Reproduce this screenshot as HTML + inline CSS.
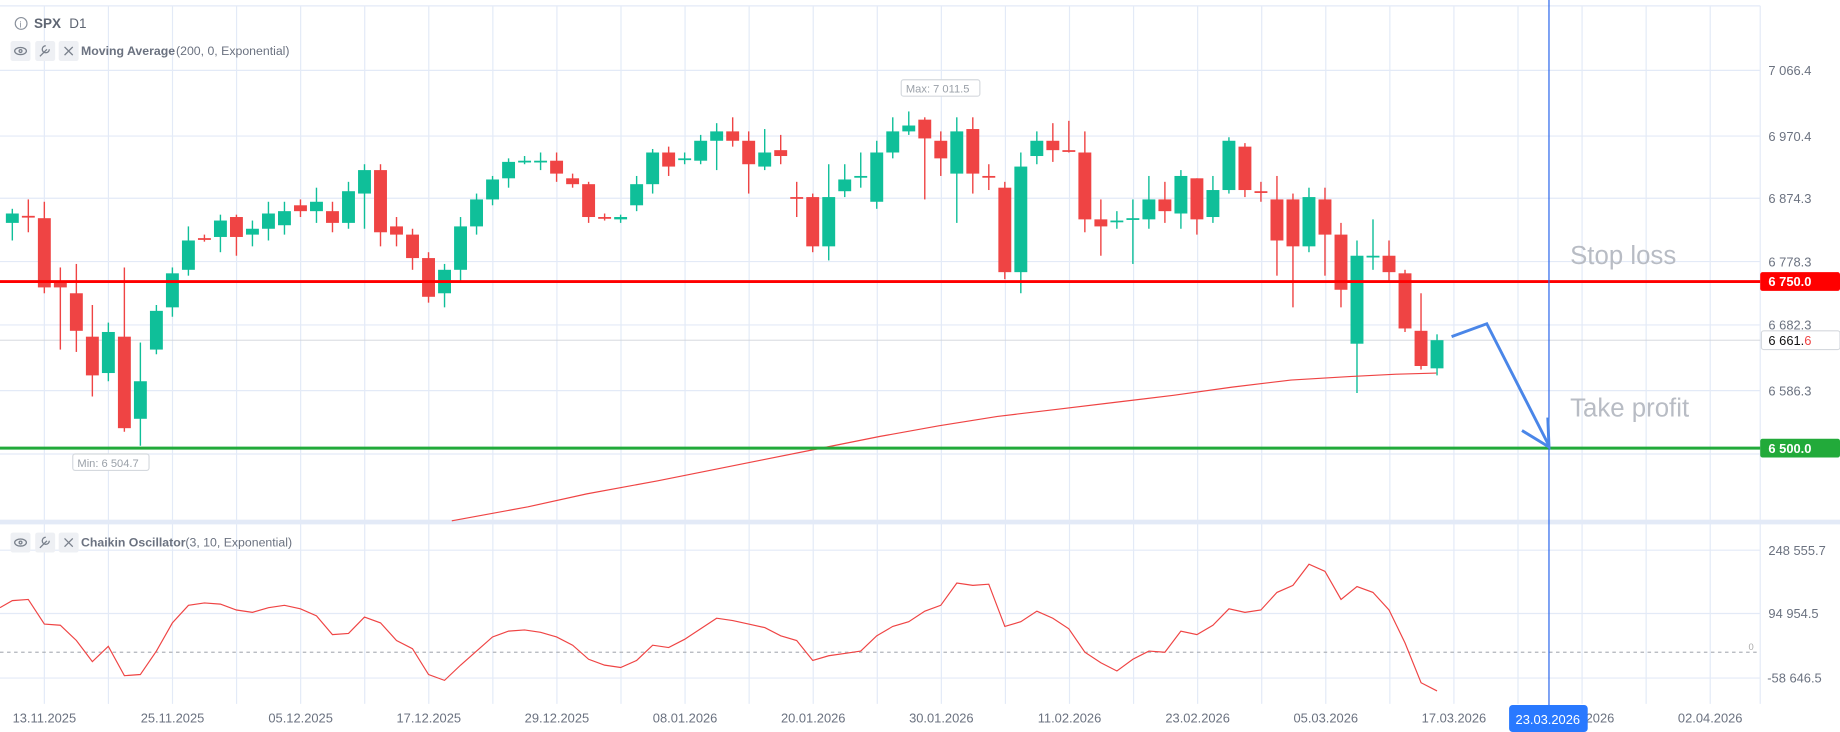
<!DOCTYPE html>
<html><head><meta charset="utf-8"><style>
html,body{margin:0;padding:0;background:#fff;overflow:hidden}
svg{display:block}
text{font-family:"Liberation Sans",sans-serif}
</style></head><body>
<svg id="s" width="1840" height="732" viewBox="0 0 1568 624" preserveAspectRatio="none" xmlns="http://www.w3.org/2000/svg">
<rect width="1568" height="624" fill="#fff"/>
<g id="grid" stroke="#e3eaf7" stroke-width="1"></g>
<line x1="1500" y1="5" x2="1500" y2="600" stroke="#e3eaf7"/>
<line x1="0" y1="5" x2="1500" y2="5" stroke="#e3eaf7"/>
<rect x="0" y="443" width="1568" height="4" fill="#e3eaf7"/>
<line x1="0" y1="290" x2="1500" y2="290" stroke="#d0d4da" stroke-width="0.8"/>
<g id="candles"></g>
<polyline fill="none" stroke="#ef4444" stroke-width="1" points="385,444 450,432 500,421 560,410 600,402 650,392 700,382 750,372 800,363 850,355 900,349 950,343 1000,337 1050,330 1100,324 1150,321 1190,319 1224,318"/>
<line x1="0" y1="240" x2="1500" y2="240" stroke="#ff0000" stroke-width="2.5"/>
<line x1="0" y1="382" x2="1500" y2="382" stroke="#22aa3a" stroke-width="2.5"/>
<line x1="0" y1="556" x2="1500" y2="556" stroke="#b0b4bb" stroke-width="1" stroke-dasharray="3,3"/>
<polyline id="ch" fill="none" stroke="#ef4444" stroke-width="1"/>
<line x1="1320" y1="0" x2="1320" y2="605" stroke="#2563eb" stroke-width="1"/>
<polyline fill="none" stroke="#4a86e8" stroke-width="2.5" points="1237,287 1267,276 1320,380"/>
<polyline fill="none" stroke="#4a86e8" stroke-width="2.5" points="1297,367 1320,381 1319,356"/>
<text x="1338" y="225" font-size="22" fill="#b8bcc4">Stop loss</text>
<text x="1338" y="355" font-size="22" fill="#b8bcc4">Take profit</text>
<g font-size="11" fill="#6b7280">
<text x="1507" y="64">7 066.4</text><text x="1507" y="120">6 970.4</text><text x="1507" y="173">6 874.3</text>
<text x="1507" y="227">6 778.3</text><text x="1507" y="281">6 682.3</text><text x="1507" y="337">6 586.3</text>
<text x="1507" y="473">248 555.7</text><text x="1507" y="527">94 954.5</text><text x="1506" y="582">-58 646.5</text>
<text x="1490" y="554" font-size="8" fill="#aaa">0</text>
</g>
<rect x="1500" y="232" width="68" height="16" rx="2" fill="#ff0000"/>
<text x="1507" y="244" font-size="11" fill="#fff" font-weight="bold">6 750.0</text>
<rect x="1500" y="374" width="68" height="16" rx="2" fill="#22aa3a"/>
<text x="1507" y="386" font-size="11" fill="#fff" font-weight="bold">6 500.0</text>
<rect x="1501" y="282" width="67" height="16" rx="2" fill="#fff" stroke="#d5d9de"/>
<text x="1507" y="294" font-size="11" fill="#111">6 661.<tspan fill="#ef4444">6</tspan></text>
<rect x="768" y="68" width="67" height="14" rx="2" fill="#fff" stroke="#d5d9de"/>
<text x="772" y="79" font-size="9.5" fill="#9aa0a8">Max: 7 011.5</text>
<rect x="62" y="387" width="65" height="14" rx="2" fill="#fff" stroke="#d5d9de"/>
<text x="66" y="398" font-size="9.5" fill="#9aa0a8">Min: 6 504.7</text>
<g id="dates" font-size="11" fill="#6b7280" text-anchor="middle"></g>
<rect x="1286" y="601" width="67" height="23" rx="3" fill="#2979ff"/>
<text x="1319" y="617" font-size="11" fill="#fff" text-anchor="middle">23.03.2026</text>
<circle cx="18" cy="20" r="5" fill="none" stroke="#8a919c" stroke-width="1"/>
<text x="16.5" y="23.5" font-size="8" fill="#8a919c">i</text>
<text x="29" y="24" font-size="11.5" font-weight="bold" fill="#5f6673">SPX</text>
<text x="59" y="24" font-size="11.5" fill="#5f6673">D1</text>
<g fill="#eef0f4"><rect x="9" y="35" width="17" height="17" rx="2"/><rect x="30" y="35" width="17" height="17" rx="2"/><rect x="50" y="35" width="17" height="17" rx="2"/>
<rect x="9" y="454" width="17" height="17" rx="2"/><rect x="30" y="454" width="17" height="17" rx="2"/><rect x="50" y="454" width="17" height="17" rx="2"/></g>
<g stroke="#7a818c" fill="none" stroke-width="1.1">
<ellipse cx="17.5" cy="43.5" rx="5" ry="3"/><circle cx="17.5" cy="43.5" r="1.2"/>
<path d="M34 48 L40 42 M39 39 a3 3 0 1 0 3 3"/>
<path d="M55 40 L62 47 M62 40 L55 47"/>
<ellipse cx="17.5" cy="462.5" rx="5" ry="3"/><circle cx="17.5" cy="462.5" r="1.2"/>
<path d="M34 467 L40 461 M39 458 a3 3 0 1 0 3 3"/>
<path d="M55 459 L62 466 M62 459 L55 466"/>
</g>
<text x="69" y="47" font-size="10.5" font-weight="bold" fill="#6b7280">Moving Average</text>
<text x="150" y="47" font-size="10.5" fill="#6b7280">(200, 0, Exponential)</text>
<text x="69" y="466" font-size="10.5" font-weight="bold" fill="#6b7280">Chaikin Oscillator</text>
<text x="158" y="466" font-size="10.5" fill="#6b7280">(3, 10, Exponential)</text>
</svg>
<script>
const NS="http://www.w3.org/2000/svg";
function el(t,a,p){const e=document.createElementNS(NS,t);for(const k in a)e.setAttribute(k,a[k]);p.appendChild(e);return e;}
const g=document.getElementById('grid');
[60,116,169,223,277,333,387,469,523,578].forEach(y=>el('line',{x1:0,y1:y,x2:1500,y2:y},g));
for(let x=37.8;x<1500;x+=54.6)el('line',{x1:x,y1:5,x2:x,y2:600},g);
const dates=["13.11.2025","25.11.2025","05.12.2025","17.12.2025","29.12.2025","08.01.2026","20.01.2026","30.01.2026","11.02.2026","23.02.2026","05.03.2026","17.03.2026","26.03.2026","02.04.2026"];
const dg=document.getElementById('dates');
dates.forEach((d,i)=>{const t=el('text',{x:37.8+109.2*i,y:616},dg);t.textContent=d;});
const C=[[182,190,178,205,'g'],[184,184,170,198,'r'],[186,245,172,250,'r'],[240,245,228,298,'r'],[250,282,225,300,'r'],[287,320,260,338,'r'],[283,318,275,325,'g'],[287,365,228,368,'r'],[325,357,292,380,'g'],[265,298,260,302,'g'],[233,262,228,270,'g'],[205,230,193,235,'g'],[203,204,200,206,'r'],[188,202,183,215,'g'],[185,202,183,218,'r'],[195,200,188,210,'g'],[182,195,172,205,'g'],[180,192,172,200,'g'],[175,180,170,185,'r'],[172,180,160,190,'g'],[180,190,172,198,'r'],[163,190,155,195,'g'],[145,165,140,195,'g'],[145,198,140,210,'r'],[193,200,185,210,'r'],[200,220,195,230,'r'],[220,253,215,258,'r'],[230,250,225,262,'g'],[193,230,185,240,'g'],[170,193,165,200,'g'],[153,170,150,175,'g'],[138,152,135,160,'g'],[137,138,133,140,'g'],[137,138,130,145,'g'],[137,148,130,155,'r'],[152,157,148,160,'r'],[157,185,155,190,'r'],[185,186,182,188,'r'],[185,187,183,190,'g'],[157,175,150,180,'g'],[130,157,127,165,'g'],[130,142,125,150,'r'],[135,136,130,140,'g'],[120,137,115,140,'g'],[112,120,105,145,'g'],[112,120,100,125,'r'],[120,140,112,165,'r'],[130,142,110,145,'g'],[128,133,115,140,'r'],
[168,169,155,185,'r'],[168,210,165,215,'r'],[168,210,140,222,'g'],[153,163,140,168,'g'],[150,151,130,160,'g'],[130,172,120,178,'g'],[112,130,100,135,'g'],[107,112,95,115,'g'],[102,118,100,170,'r'],[120,135,112,150,'r'],[112,148,100,190,'g'],[110,148,100,165,'r'],[150,151,140,162,'r'],[160,232,155,238,'r'],[142,232,130,250,'g'],[120,133,112,140,'g'],[120,128,105,138,'r'],[128,129,103,130,'r'],[130,187,112,198,'r'],[187,193,170,218,'r'],[188,189,180,195,'g'],[186,187,170,225,'g'],[170,187,150,195,'g'],[170,180,155,190,'r'],[150,182,145,195,'g'],[152,187,152,200,'r'],[162,185,150,190,'g'],[120,162,117,165,'g'],[125,162,122,168,'r'],[163,164,155,172,'r'],[170,205,150,235,'r'],[170,210,165,262,'r'],[168,210,160,215,'g'],[170,200,160,235,'r'],[200,247,190,262,'r'],[218,293,205,335,'g'],[218,219,187,230,'g'],[218,232,205,240,'r'],[233,280,230,283,'r'],[282,312,250,315,'r'],[290,314,285,320,'g']];
const cg=document.getElementById('candles');
const sp=(1224.6-10.5)/(C.length-1);
C.forEach((c,i)=>{const x=10.5+sp*i;const col=c[4]=='g'?'#0fbf99':'#ef4444';
el('line',{x1:x,y1:c[2],x2:x,y2:c[3],stroke:col,'stroke-width':1.2},cg);
el('rect',{x:x-5.5,y:c[0],width:11,height:Math.max(1.5,c[1]-c[0]),fill:col},cg);});
const ch=[518,512,511,532,533,546,564,551,576,575,555,531,516,514,515,520,522,518,516,519,525,541,540,526,531,546,553,575,580,567,555,543,538,537,539,543,550,562,567,569,563,550,552,545,536,527,529,532,535,542,546,563,559,557,555,542,534,530,521,516,497,499,498,534,530,521,527,536,556,565,572,562,555,556,538,541,533,519,522,520,505,499,481,487,511,500,505,520,548,582,589];
const n=ch.length;const pts=ch.map((y,i)=>{const x=i==0?0:(10.5+sp*(i-1)*(C.length-1)/(n-2));return x.toFixed(1)+','+y}).join(' ');
document.getElementById('ch').setAttribute('points',pts);
</script>
</body></html>
